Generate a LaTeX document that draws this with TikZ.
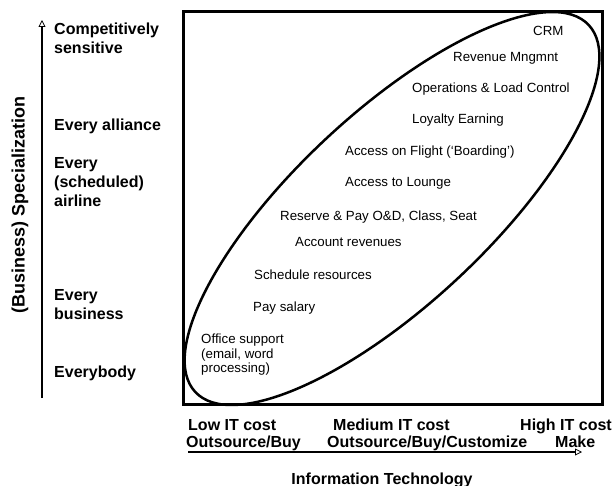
\documentclass[tikz,border=0pt]{standalone}
\usepackage{amssymb,amsmath,tikz}
\usepackage{fontspec}
\setmainfont{Liberation Sans}
\usetikzlibrary{arrows.meta}

\tikzset{
  levellabel/.style={font=\bfseries\fontsize{16}{19}\selectfont, align=left, anchor=base west, inner sep=0pt},
  activity/.style={font=\fontsize{13.3}{14.5}\selectfont, align=left, anchor=base west, inner sep=0pt}
}

\begin{document}
\begin{tikzpicture}[x=1pt, y=-1pt, >={Triangle[open, length=7pt, width=7pt, line width=0.8pt]}]
\useasboundingbox (0,0) rectangle (616,486);
% Axis ends
\coordinate (ybot) at (42,398);
\coordinate (ytop) at (42,20);
\coordinate (xleft) at (188,452);
\coordinate (xright) at (582,452);
% Draw axes
\draw[->, line width=1.8pt] (ybot) -- (ytop);
\draw[->, line width=1.8pt] (xleft) -- (xright);
% Frame and ellipse
\draw[line width=3pt] (183.5,11.5) rectangle (602,404);
\draw[line width=2.5pt, rotate around={43:(392,208.5)}] (392,208.5) ellipse [x radius=269pt, y radius=96pt];
% Specialization levels (base = last line)
\node[rotate=90, font=\bfseries\fontsize{18}{20}\selectfont] (speclabel) at (20,205) {(Business) Specialization};
\node[levellabel] (competitive) at (54,53.5) {Competitively\\sensitive};
\node[levellabel] (alliance) at (54,130.5) {Every alliance};
\node[levellabel] (airline) at (54,207) {Every\\(scheduled)\\airline};
\node[levellabel] (business) at (54,319.5) {Every\\business};
\node[levellabel] (everybody) at (54,377.5) {Everybody};
% IT cost levels
\node[levellabel] (lowcost) at (188,430) {Low IT cost};
\node[levellabel] (lowbuy) at (186,447) {Outsource/Buy};
\node[levellabel] (medcost) at (333,430) {Medium IT cost};
\node[levellabel] (medbuy) at (327,447) {Outsource/Buy/Customize};
\node[levellabel] (highcost) at (520,430) {High IT cost};
\node[levellabel] (make) at (555,447) {Make};
\node[levellabel, anchor=base] (itlabel) at (382,484) {Information Technology};
% Activities
\foreach \name/\px/\py/\txt in {
    crm/533/36/CRM,
    revenue/453/61.5/{Revenue Mngmnt},
    operations/412/92.5/{Operations \& Load Control},
    loyalty/412/123.5/{Loyalty Earning},
    flight/345/155.5/{Access on Flight (`Boarding')},
    lounge/345/186.5/{Access to Lounge},
    reserve/280/220.5/{Reserve \& Pay O\&D, Class, Seat},
    account/295/246.5/{Account revenues},
    schedule/254/279.5/{Schedule resources},
    salary/253/311.5/{Pay salary},
    office/201/373/{Office support\\(email, word\\processing)}}
    \node[activity] (\name) at (\px,\py) {\txt};
\end{tikzpicture}
\end{document}
